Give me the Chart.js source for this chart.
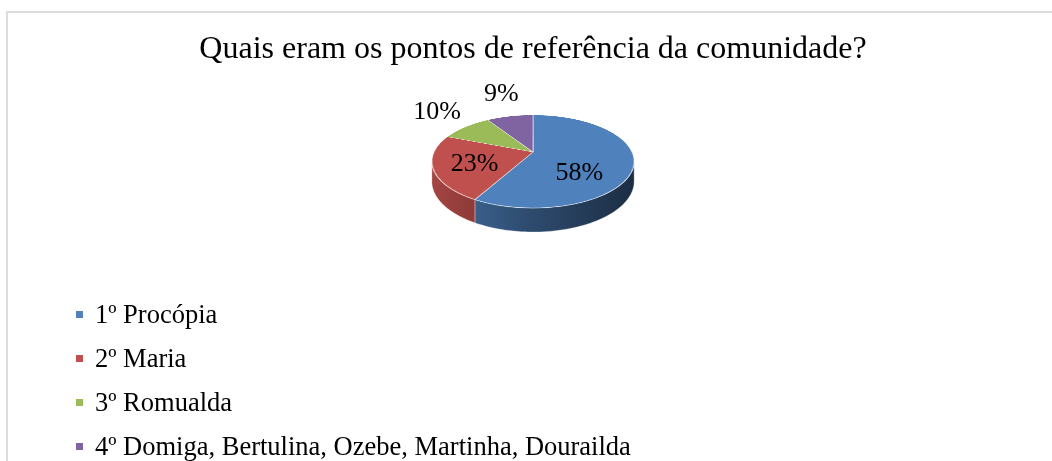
<!DOCTYPE html>
<html><head><meta charset="utf-8">
<script src="https://cdn.jsdelivr.net/npm/chart.js@4.4.1/dist/chart.umd.min.js"></script>
<style>
html,body{margin:0;padding:0;background:#fff;width:1052px;height:461px;overflow:hidden;}
#frame{position:absolute;left:6px;top:11px;width:1100px;height:520px;border:2px solid #dcdcdc;box-sizing:border-box;}
#wrap{position:absolute;left:0;top:0;width:1052px;height:461px;}
#legend{position:absolute;left:0;top:0;font-family:"Liberation Serif","Times New Roman",serif;font-size:26.5px;color:#000;}
.item{position:absolute;left:76px;height:44px;display:flex;align-items:center;white-space:nowrap;line-height:44px;}
.sw{width:7px;height:7px;margin-right:12px;flex:none;}
</style></head>
<body>
<div id="frame"></div>
<div id="wrap"><canvas id="c" width="1052" height="461"></canvas></div>
<div id="legend"></div>
<script>
const chartTitle = 'Quais eram os pontos de referência da comunidade?';
const categories = ['1º Procópia', '2º Maria', '3º Romualda', '4º Domiga, Bertulina, Ozebe, Martinha, Dourailda'];
const values = [58, 23, 10, 9];
const colors = ['#4F81BD', '#C0504D', '#9BBB59', '#8064A2'];

// 3D look (perspective view of the pie disc)
const VIEW = { yScale: 0.45, persp: 0.2044, depth: 19.1, scratchX: 890, scratchY: 305, ss: 1.5 };
// small pixel nudges of the inside percentage labels (style only)
const LABEL_NUDGE = [[-13, 14], [0, 3], [0, 0], [0, 0]];

function shade(hex, f) {
  const n = parseInt(hex.slice(1), 16);
  const r = Math.round(((n >> 16) & 255) * f), g = Math.round(((n >> 8) & 255) * f), b = Math.round((n & 255) * f);
  return `rgb(${r},${g},${b})`;
}

// legend (HTML, built from the data arrays)
const legendEl = document.getElementById('legend');
categories.forEach((c, i) => {
  const d = document.createElement('div');
  d.className = 'item';
  d.style.top = (292 + i * 44) + 'px';
  const sw = document.createElement('span');
  sw.className = 'sw';
  sw.style.background = colors[i];
  const t = document.createElement('span');
  t.textContent = c;
  d.appendChild(sw); d.appendChild(t);
  legendEl.appendChild(d);
});

// projection of a disc point (unit radius coords) to the screen
function project(cx, cy, R, un, vn, down) {
  const z = 1 - VIEW.persp * vn;
  const A = R * VIEW.yScale;
  return [cx + R * un / z, cy + (A * vn + (down || 0)) / z];
}

const pie3d = {
  id: 'pie3d',
  beforeDatasetsDraw(chart) {
    // let Chart.js draw the flat pie in a scratch spot, it is re-projected afterwards
    const ctx = chart.ctx;
    const p0 = chart.getDatasetMeta(0).data[0].getProps(['x', 'y'], true);
    ctx.save();
    ctx.translate(VIEW.scratchX, VIEW.scratchY);
    ctx.scale(VIEW.ss, VIEW.ss);
    ctx.translate(-p0.x, -p0.y);
  },
  afterDatasetsDraw(chart) {
    const ctx = chart.ctx;
    ctx.restore();
    const meta = chart.getDatasetMeta(0);
    const p0 = meta.data[0].getProps(['x', 'y', 'outerRadius'], true);
    const cx = p0.x, cy = p0.y, R = p0.outerRadius;
    const Rs = R * VIEW.ss;
    const S = Math.ceil(2 * Rs) + 6;
    const sx0 = Math.round(VIEW.scratchX - S / 2), sy0 = Math.round(VIEW.scratchY - S / 2);
    const off = document.createElement('canvas');
    off.width = S; off.height = S;
    off.getContext('2d').drawImage(chart.canvas, sx0, sy0, S, S, 0, 0, S, S);
    ctx.clearRect(sx0, sy0, S, S);
    const scx = VIEW.scratchX - sx0, scy = VIEW.scratchY - sy0;

    // sides
    const q = VIEW.persp;
    const tA = Math.asin(q), tB = Math.PI - Math.asin(q);
    meta.data.forEach((arc, i) => {
      const p = arc.getProps(['startAngle', 'endAngle'], true);
      [0, 2 * Math.PI, -2 * Math.PI].forEach(sh => {
        const a1 = Math.max(p.startAngle, tA + sh), a2 = Math.min(p.endAngle, tB + sh);
        if (a2 <= a1) return;
        const N = 60;
        ctx.beginPath();
        for (let k = 0; k <= N; k++) {
          const t = a1 + (a2 - a1) * k / N;
          const [X, Y] = project(cx, cy, R, Math.cos(t), Math.sin(t), 0);
          k === 0 ? ctx.moveTo(X, Y) : ctx.lineTo(X, Y);
        }
        for (let k = N; k >= 0; k--) {
          const t = a1 + (a2 - a1) * k / N;
          const [X, Y] = project(cx, cy, R, Math.cos(t), Math.sin(t), VIEW.depth);
          ctx.lineTo(X, Y);
        }
        ctx.closePath();
        const g = ctx.createLinearGradient(cx - R, 0, cx + R, 0);
        g.addColorStop(0, shade(colors[i], 0.85));
        g.addColorStop(0.45, shade(colors[i], 0.6));
        g.addColorStop(1, shade(colors[i], 0.36));
        ctx.fillStyle = g;
        ctx.fill();
        ctx.strokeStyle = 'rgba(255,255,255,0.3)';
        ctx.lineWidth = 1;
        ctx.stroke();
      });
    });

    // top face: row-by-row perspective warp of the Chart.js pie
    const A = R * VIEW.yScale;
    const yTop = Math.floor(cy - A / (1 + q)) - 2, yBot = Math.ceil(cy + A / (1 - q)) + 2;
    ctx.save();
    ctx.imageSmoothingEnabled = true;
    for (let Y = yTop; Y < yBot; Y++) {
      const ys0 = Y - cy, ys1 = Y + 1 - cy;
      const v0 = ys0 / (A + q * ys0), v1 = ys1 / (A + q * ys1);
      let s0 = scy + v0 * Rs, s1 = scy + v1 * Rs;
      s0 = Math.max(0, s0); s1 = Math.min(S, s1);
      if (s1 - s0 <= 0.01) continue;
      const vm = (v0 + v1) / 2;
      const z = 1 - q * vm;
      const sc = (R / Rs) / z;
      ctx.drawImage(off, 0, s0, S, s1 - s0, cx - scx * sc, Y, S * sc, 1);
    }
    ctx.restore();

    // percentage labels
    ctx.save();
    ctx.font = '26px "Liberation Serif", serif';
    ctx.fillStyle = '#000';
    ctx.textAlign = 'center';
    ctx.textBaseline = 'middle';
    meta.data.forEach((arc, i) => {
      const p = arc.getProps(['startAngle', 'endAngle'], true);
      const mid = (p.startAngle + p.endAngle) / 2;
      const c = Math.cos(mid), s = Math.sin(mid);
      const txt = values[i] + '%';
      let lx, ly;
      if (values[i] >= 15) {
        [lx, ly] = project(cx, cy, R, 0.6 * c, 0.6 * s, 0);
      } else {
        const [ex, ey] = project(cx, cy, R, c, s, 0);
        const hw = ctx.measureText(txt).width / 2, hh = 10, gap = 13;
        lx = ex + c * gap + c * hw;
        ly = ey + s * gap + s * hh;
      }
      ctx.fillText(txt, lx + LABEL_NUDGE[i][0], ly + LABEL_NUDGE[i][1]);
    });
    ctx.restore();
  }
};

new Chart(document.getElementById('c'), {
  type: 'pie',
  data: {
    labels: categories,
    datasets: [{
      data: values,
      backgroundColor: colors,
      borderColor: 'rgba(255,255,255,0.6)',
      borderWidth: 1,
      radius: 99
    }]
  },
  options: {
    responsive: false,
    animation: false,
    events: [],
    layout: { padding: { left: 14, right: 0, top: 0, bottom: 235.4 } },
    plugins: {
      legend: { display: false },
      tooltip: { enabled: false },
      title: {
        display: true,
        text: chartTitle,
        color: '#000',
        font: { family: "'Liberation Serif', serif", size: 32, weight: 'normal', lineHeight: 1.2 },
        padding: { top: 30, bottom: 10 }
      }
    }
  },
  plugins: [pie3d]
});
</script>
</body></html>
